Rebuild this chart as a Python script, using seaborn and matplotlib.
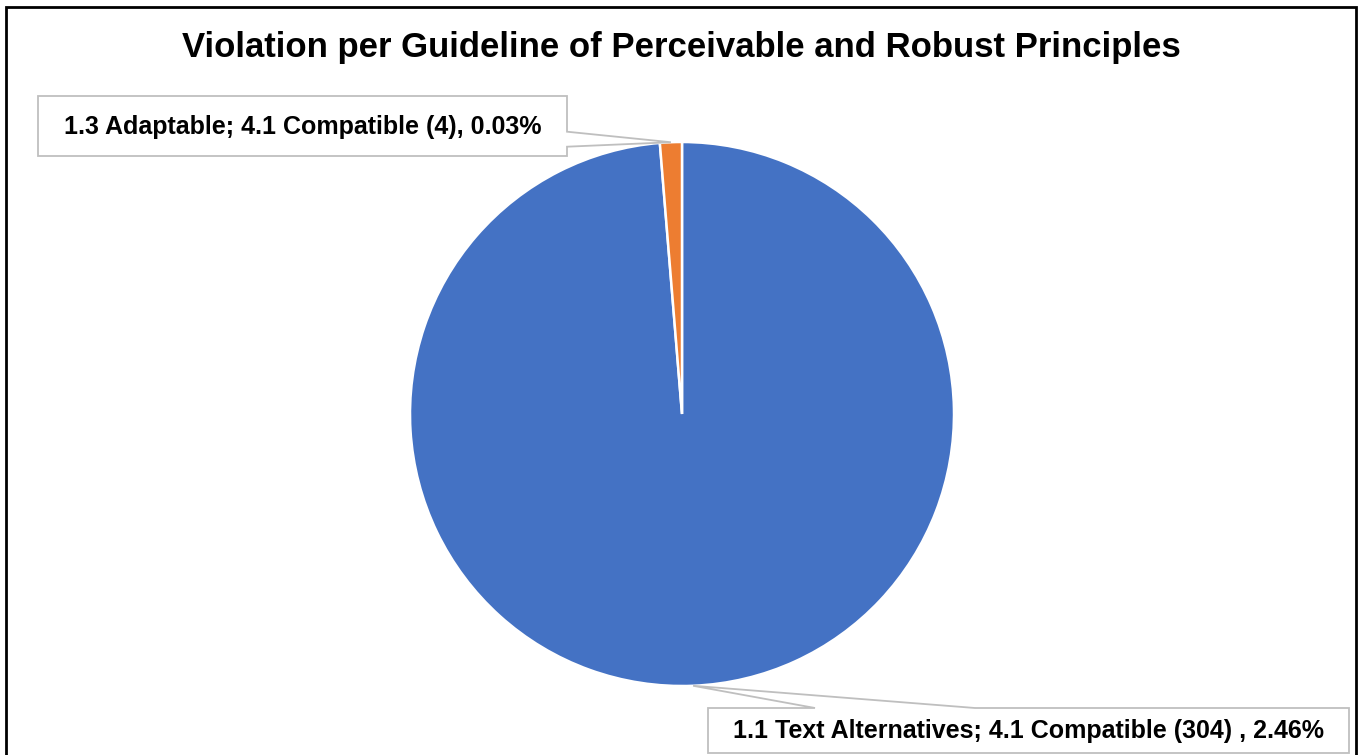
import numpy as np
import matplotlib
matplotlib.use("Agg")
import matplotlib.pyplot as plt
from matplotlib.patches import Polygon, Rectangle
import seaborn as sns

# Data
guidelines = ["1.1 Text Alternatives; 4.1 Compatible", "1.3 Adaptable; 4.1 Compatible"]
counts = [304, 4]
label_texts = [
    "1.1 Text Alternatives; 4.1 Compatible (304) , 2.46%",
    "1.3 Adaptable; 4.1 Compatible (4), 0.03%",
]
colors = ["#4472C4", "#ED7D31"]
title = "Violation per Guideline of Perceivable and Robust Principles"

sns.set_theme(style="white")
plt.rcParams["font.family"] = ["Liberation Sans", "DejaVu Sans"]

W, H = 1359, 755
fig = plt.figure(figsize=(W / 100, H / 100), dpi=100)
fig.patch.set_facecolor("white")


def px(x, y):
    # pixel (top-left origin) -> figure fraction
    return (x / W, 1 - y / H)


# pie axes: centre (682, 414), radius 272 px
cx, cy, r = 682, 414, 272
ax = fig.add_axes([(cx - r) / W, (H - cy - r) / H, 2 * r / W, 2 * r / H])
wedges, _ = ax.pie(counts, colors=colors, startangle=90, counterclock=False,
                   wedgeprops=dict(edgecolor="white", linewidth=1.8))
ax.set_xlim(-1, 1)
ax.set_ylim(-1, 1)
ax.set_aspect("equal")
ax.axis("off")

# outer frame
fig.patches.append(Rectangle(px(6, 760), 1350 / W, 753 / H, transform=fig.transFigure,
                             fill=False, edgecolor="black", linewidth=2, zorder=5))

fig.text(0.5015, 1 - 48 / H, title, ha="center", va="center",
         fontsize=25, fontweight="bold", color="black")


def apex(w):
    mid = np.deg2rad((w.theta1 + w.theta2) / 2)
    pt = ax.transData.transform((np.cos(mid), np.sin(mid)))
    return tuple(fig.transFigure.inverted().transform(pt))


# callout for the small slice (left box, pointer from right edge)
a1 = apex(wedges[1])
box1 = [px(38, 96), px(567, 96), px(567, 131.7), a1, px(567, 146.7), px(567, 156), px(38, 156)]
fig.patches.append(Polygon(box1, closed=True, transform=fig.transFigure,
                           facecolor="white", edgecolor="#BFBFBF", linewidth=1.3, zorder=2))
fig.text((38 + 567) / 2 / W, 1 - 127 / H, label_texts[1], ha="center", va="center",
         fontsize=18, fontweight="bold", color="black", zorder=3)

# callout for the large slice (bottom box, pointer from top edge)
a0 = apex(wedges[0])
box0 = [px(708, 708), px(815, 708), a0, px(975, 708), px(1349, 708), px(1349, 753), px(708, 753)]
fig.patches.append(Polygon(box0, closed=True, transform=fig.transFigure,
                           facecolor="white", edgecolor="#BFBFBF", linewidth=1.3, zorder=2))
fig.text((708 + 1349) / 2 / W, 1 - 731 / H, label_texts[0], ha="center", va="center",
         fontsize=18, fontweight="bold", color="black", zorder=3)

fig.savefig("out.png", dpi=100)
